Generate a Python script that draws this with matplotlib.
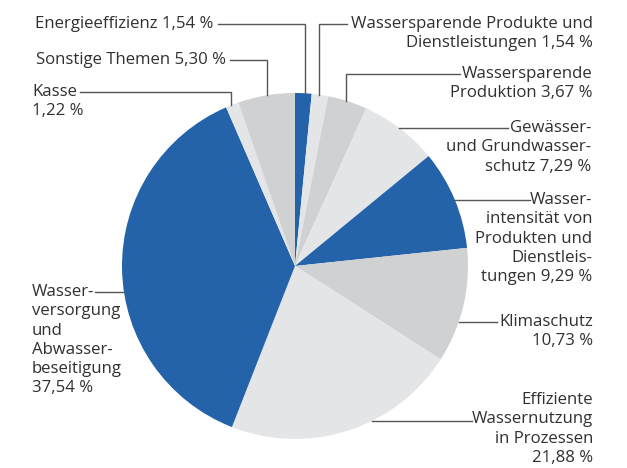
import numpy as np
import matplotlib
matplotlib.use("Agg")
import matplotlib.pyplot as plt

plt.rcParams['font.family'] = ['Open Sans', 'DejaVu Sans']

# Data (clockwise from 12 o'clock)
categories = ["Energieeffizienz", "Wassersparende Produkte und Dienstleistungen",
              "Wassersparende Produktion", "Gewässer- und Grundwasserschutz",
              "Wasserintensität von Produkten und Dienstleistungen", "Klimaschutz",
              "Effiziente Wassernutzung in Prozessen",
              "Wasserversorgung und Abwasserbeseitigung", "Kasse", "Sonstige Themen"]
values = [1.54, 1.54, 3.67, 7.29, 9.29, 10.73, 21.88, 37.54, 1.22, 5.30]

BLUE, LIGHT, MID = "#2463aa", "#e4e5e7", "#d0d1d3"
colors = [BLUE, LIGHT, MID, LIGHT, BLUE, MID, LIGHT, BLUE, LIGHT, MID]

# label lines ({v} = formatted value)
label_lines = [
    ["Energieeffizienz {v}"],
    ["Wassersparende Produkte und", "Dienstleistungen {v}"],
    ["Wassersparende", "Produktion {v}"],
    ["Gewässer-", "und Grundwasser-", "schutz {v}"],
    ["Wasser-", "intensität von", "Produkten und", "Dienstleis-", "tungen {v}"],
    ["Klimaschutz", "{v}"],
    ["Effiziente", "Wassernutzung", "in Prozessen", "{v}"],
    ["Wasser-", "versorgung", "und", "Abwasser-", "beseitigung", "{v}"],
    ["Kasse", "{v}"],
    ["Sonstige Themen {v}"],
]

W, H = 627, 468
fig = plt.figure(figsize=(W / 100, H / 100), dpi=100)
ax = fig.add_axes([0, 0, 1, 1])

cx, cy_px, r = 295, 266, 173
cy = H - cy_px

ax.pie(values, colors=colors, startangle=90, counterclock=False,
       center=(cx, cy), radius=r, frame=True,
       wedgeprops=dict(linewidth=0))
ax.set_xlim(0, W)
ax.set_ylim(0, H)
ax.axis('off')

TXT = "#303030"
LN = "#555555"
FS = 12.1
LH = 19.3

def fmt(v):
    return f"{v:.2f}".replace(".", ",") + " %"

# layout: (text x px, first line y px, ha, leader spec)
# leader: ('v', x_start, x_corner, y) -> horizontal then vertical down to circle
#         ('h', x_start, y)           -> horizontal to circle
layout = [
    (213, 24, 'right', ('v', 218, 305, 24)),
    (593, 24, 'right', ('v', 347, 319, 24)),
    (593, 74, 'right', ('v', 460, 346, 74)),
    (591, 128, 'right', ('h', 508, 128)),
    (592, 200, 'right', ('h', 530, 200)),
    (593, 322, 'right', ('h', 497, 322)),
    (593, 400, 'right', ('h', 472, 421)),
    (32, 292, 'left', ('h', 95, 292)),
    (32, 92, 'left', ('v', 80, 231, 92)),
    (226, 60, 'right', ('v', 230, 267, 60)),
]

for val, lines, (tx, ty, ha, lead) in zip(values, label_lines, layout):
    for i, ln in enumerate(lines):
        ax.text(tx, H - (ty + i * LH), ln.format(v=fmt(val)), ha=ha, va='center',
                fontsize=FS, color=TXT)
    if lead[0] == 'v':
        _, x0, xc, y = lead
        yend = cy_px - np.sqrt(r ** 2 - (xc - cx) ** 2)
        ax.plot([x0, xc, xc], [H - y, H - y, H - yend], color=LN, lw=1.0,
                solid_joinstyle='miter')
    else:
        _, x0, y = lead
        dx = np.sqrt(r ** 2 - (y - cy_px) ** 2)
        xend = cx + dx if x0 > cx else cx - dx
        ax.plot([x0, xend], [H - y, H - y], color=LN, lw=1.0)

fig.savefig("out.png", dpi=100)
